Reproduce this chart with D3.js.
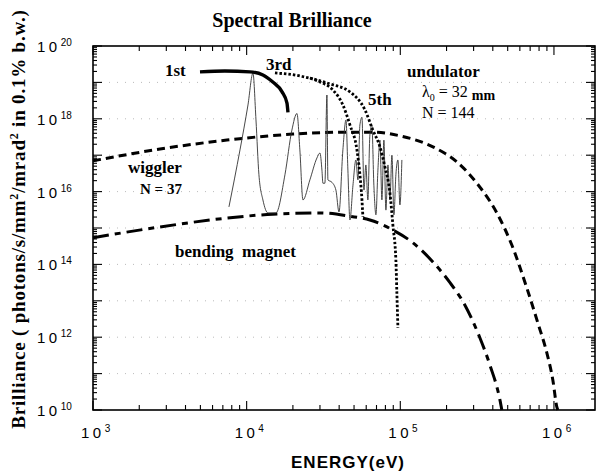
<!DOCTYPE html>
<html>
<head>
<meta charset="utf-8">
<script src="https://cdn.jsdelivr.net/npm/d3@7"></script>
<style>
  body { margin: 0; background: #fff; }
  svg { display: block; }
</style>
</head>
<body>
<div id="chart"></div>
<script>
// Curves: [energy eV, brilliance]
const bendingMagnet = [
    [1.0e3, 5.4e14], [2.73e3, 1.07e15], [7.44e3, 1.87e15], [1.48e4, 2.4e15],
    [3.0e4, 2.6e15], [4.7e4, 2.1e15], [6.34e4, 1.66e15], [8.95e4, 8.8e14],
    [1.21e5, 3.9e14], [1.63e5, 1.17e14], [2.1e5, 3.2e13], [2.63e5, 7.7e12],
    [3.30e5, 9.5e11], [3.83e5, 1.72e11], [4.45e5, 1.9e10], [4.58e5, 1.0e10]
];

const wiggler = [
    [1.0e3, 7.0e16], [2.73e3, 1.48e17], [7.44e3, 2.6e17], [2.0e4, 3.8e17],
    [4.49e4, 4.3e17], [6.63e4, 4.3e17], [9.94e4, 3.4e17], [1.63e5, 1.7e17],
    [2.34e5, 6.5e16], [3.15e5, 1.7e16], [4.25e5, 2.6e15], [5.32e5, 3.4e14],
    [6.66e5, 2.25e13], [7.86e5, 2.45e12], [8.99e5, 3.7e11], [9.84e5, 6.6e10],
    [1.045e6, 1.2e10], [1.06e6, 1.0e10]
];

const undulator1st = [
    [4.97e3, 1.95e19], [7.22e3, 2.05e19], [1.05e4, 1.95e19], [1.276e4, 1.6e19],
    [1.48e4, 1.02e19], [1.70e4, 5.5e18], [1.83e4, 2.7e18], [1.857e4, 1.5e18]
];

const undulator3rd = [
    [1.528e4, 1.82e19], [2.22e4, 1.5e19], [3.0e4, 1.03e19], [3.64e4, 6.2e18],
    [4.23e4, 2.4e18], [4.7e4, 6.8e17], [5.22e4, 1.4e17], [5.46e4, 2.9e16],
    [5.63e4, 5.9e15], [5.71e4, 2.0e15]
];

const undulator5th = [
    [2.58e4, 1.32e19], [3.48e4, 9.1e18], [4.7e4, 5.5e18], [5.89e4, 1.75e18],
    [6.63e4, 4.9e17], [7.37e4, 1.7e17], [7.94e4, 4.8e16], [8.56e4, 9.2e15],
    [8.95e4, 1.2e15], [9.36e4, 1.3e14], [9.5e4, 1.6e13], [9.65e4, 1.8e12]
];

// thin line: undulator spectrum through the harmonic peaks
const undulatorSpectrum = [
    [7.67e3, 3.8e15], [9.05e3, 1.4e17], [1.02e4, 2.4e18], [1.099e4, 1.8e19],
    [1.15e4, 9.3e17], [1.202e4, 2.9e16], [1.276e4, 5.9e15], [1.376e4, 2.6e15],
    [1.551e4, 2.6e15], [1.775e4, 2.9e16], [1.97e4, 4.9e17], [2.125e4, 1.4e18],
    [2.22e4, 1.4e17], [2.325e4, 5.9e15], [2.58e4, 2.1e16], [2.867e4, 8.4e16],
    [3.0e4, 1.15e17], [3.09e4, 3.9e16], [3.136e4, 1.7e16], [3.23e4, 1.7e16],
    [3.33e4, 4.5e18], [3.38e4, 2.1e16], [3.59e4, 1.8e16], [3.81e4, 1.1e16],
    [3.99e4, 2.75e15], [4.23e4, 1.4e17], [4.43e4, 9.3e17], [4.56e4, 3.9e16],
    [4.7e4, 1.66e15], [4.92e4, 1.5e16], [5.14e4, 7.4e16], [5.30e4, 2.1e16],
    [5.46e4, 6.8e17], [5.63e4, 1.1e18], [5.80e4, 1.1e16], [5.97e4, 5.4e16],
    [6.15e4, 5.9e15], [6.34e4, 3.6e17], [6.53e4, 6.8e17], [6.73e4, 1.5e16],
    [6.94e4, 2.3e15], [7.15e4, 3.9e16], [7.37e4, 2.6e17], [7.59e4, 5.9e15],
    [7.82e4, 2.6e17], [8.06e4, 3.1e15], [8.31e4, 5.4e16], [8.56e4, 5.9e15],
    [8.82e4, 1.0e17], [9.09e4, 2.3e15], [9.36e4, 2.9e16], [9.65e4, 7.4e16],
    [9.94e4, 4.3e15], [1.024e5, 7.4e16]
];

const xLabelExps = [3, 4, 5, 6];
const yLabelExps = [10, 12, 14, 16, 18, 20];

const serif = "'Liberation Serif', 'Times New Roman', serif";
const sans = "'Liberation Sans', Arial, sans-serif";

const W = 598, H = 474;
const plot = {left: 93, right: 595, top: 46, bottom: 410};

const svg = d3.select("#chart")
    .append("svg")
    .attr("width", W)
    .attr("height", H);

const x = d3.scaleLog()
    .domain([1e3, 1.85e6])
    .range([plot.left, plot.right]);

const y = d3.scaleLog()
    .domain([1e10, 1e20])
    .range([plot.bottom, plot.top]);

// faint dotted grid at each decade
const yDecades = d3.range(11, 20).map(e => Math.pow(10, e));
svg.append("g")
    .selectAll("line")
    .data(yDecades)
    .join("line")
    .attr("x1", plot.left)
    .attr("x2", plot.right)
    .attr("y1", d => y(d))
    .attr("y2", d => y(d))
    .attr("stroke", "#aaa")
    .attr("stroke-width", 0.8)
    .attr("stroke-dasharray", "1,7");

// ticks, all pointing inward
const xTicks = [];
for (let e = 3; e <= 6; e++) {
    for (let k = 1; k <= 9; k++) {
        const v = k * Math.pow(10, e);
        if (v <= x.domain()[1]) xTicks.push({v, major: k === 1});
    }
}
const yTicks = [];
for (let e = 10; e <= 20; e++) {
    for (let k = 1; k <= 9; k++) {
        const v = k * Math.pow(10, e);
        if (v <= 1e20) yTicks.push({v, major: k === 1});
    }
}

const tickG = svg.append("g").attr("stroke", "#000").attr("stroke-width", 1.1);

tickG.selectAll(".tb")
    .data(xTicks)
    .join("line")
    .attr("class", "tb")
    .attr("x1", d => x(d.v)).attr("x2", d => x(d.v))
    .attr("y1", plot.bottom).attr("y2", d => plot.bottom - (d.major ? 9 : 5));

tickG.selectAll(".tt")
    .data(xTicks)
    .join("line")
    .attr("class", "tt")
    .attr("x1", d => x(d.v)).attr("x2", d => x(d.v))
    .attr("y1", plot.top).attr("y2", d => plot.top + (d.major ? 9 : 5));

tickG.selectAll(".tl")
    .data(yTicks)
    .join("line")
    .attr("class", "tl")
    .attr("y1", d => y(d.v)).attr("y2", d => y(d.v))
    .attr("x1", plot.left).attr("x2", d => plot.left + (d.major ? 9 : 4));

tickG.selectAll(".tr")
    .data(yTicks)
    .join("line")
    .attr("class", "tr")
    .attr("y1", d => y(d.v)).attr("y2", d => y(d.v))
    .attr("x1", plot.right).attr("x2", d => plot.right - (d.major ? 9 : 4));

// frame
svg.append("rect")
    .attr("x", plot.left)
    .attr("y", plot.top)
    .attr("width", plot.right - plot.left)
    .attr("height", plot.bottom - plot.top)
    .attr("fill", "none")
    .attr("stroke", "#000")
    .attr("stroke-width", 1.6);

// tick labels "10^n"
function powerLabel(g, exp) {
    g.append("tspan")
        .style("letter-spacing", "3.5px")
        .text("10");
    g.append("tspan")
        .attr("dy", -6)
        .style("font-size", "10px")
        .text(exp);
}

svg.append("g")
    .selectAll("text")
    .data(yLabelExps)
    .join("text")
    .attr("x", 37)
    .attr("y", d => y(Math.pow(10, d)) + 6)
    .style("font-family", sans)
    .style("font-size", "15px")
    .each(function(d) { powerLabel(d3.select(this), d); });

svg.append("g")
    .selectAll("text")
    .data(xLabelExps)
    .join("text")
    .attr("x", d => x(Math.pow(10, d)) - 12)
    .attr("y", 438)
    .style("font-family", sans)
    .style("font-size", "15px")
    .each(function(d) { powerLabel(d3.select(this), d); });

// axis titles
svg.append("text")
    .attr("x", 348)
    .attr("y", 468)
    .attr("text-anchor", "middle")
    .style("font-family", sans)
    .style("font-weight", "bold")
    .style("font-size", "17px")
    .style("letter-spacing", "1px")
    .text("ENERGY(eV)");

const yTitle = svg.append("text")
    .attr("transform", "translate(25,219) rotate(-90)")
    .attr("text-anchor", "middle")
    .style("font-family", serif)
    .style("font-weight", "bold")
    .style("font-size", "19px")
    .style("letter-spacing", "0.8px");
yTitle.append("tspan").text("Brilliance ( photons/s/mm");
yTitle.append("tspan").attr("dy", -7).style("font-size", "12px").text("2");
yTitle.append("tspan").attr("dy", 7).text("/mrad");
yTitle.append("tspan").attr("dy", -7).style("font-size", "12px").text("2");
yTitle.append("tspan").attr("dy", 7).text(" in 0.1% b.w.)");

svg.append("text")
    .attr("x", 292)
    .attr("y", 27)
    .attr("text-anchor", "middle")
    .style("font-family", serif)
    .style("font-weight", "bold")
    .style("font-size", "20px")
    .text("Spectral Brilliance");

// curves
const line = d3.line()
    .x(d => x(d[0]))
    .y(d => y(d[1]))
    .curve(d3.curveMonotoneX);

const curves = [
    {data: bendingMagnet, width: 3, dash: "16,6,6,6"},
    {data: wiggler, width: 3, dash: "8,5"},
    {data: undulatorSpectrum, width: 0.9, dash: null, color: "#333"},
    {data: undulator1st, width: 3.4, dash: null},
    {data: undulator3rd, width: 2.8, dash: "2.5,2"},
    {data: undulator5th, width: 2.8, dash: "2.5,2"}
];

svg.append("g")
    .selectAll("path")
    .data(curves)
    .join("path")
    .attr("d", d => line(d.data))
    .attr("fill", "none")
    .attr("stroke", d => d.color || "#000")
    .attr("stroke-width", d => d.width)
    .attr("stroke-dasharray", d => d.dash);

// annotations
const notes = [
    {text: "1st", x: 165, y: 76, size: 17, bold: true},
    {text: "3rd", x: 266, y: 70, size: 17, bold: true},
    {text: "5th", x: 368, y: 105, size: 17, bold: true},
    {text: "undulator", x: 407, y: 77, size: 17, bold: true},
    {text: "N = 144", x: 422, y: 118, size: 16, bold: false},
    {text: "wiggler", x: 128, y: 173, size: 17, bold: true},
    {text: "N = 37", x: 140, y: 194, size: 15, bold: true},
    {text: "bending  magnet", x: 175, y: 257, size: 17, bold: true}
];

svg.append("g")
    .selectAll("text")
    .data(notes)
    .join("text")
    .attr("x", d => d.x)
    .attr("y", d => d.y)
    .attr("xml:space", "preserve")
    .style("font-family", serif)
    .style("font-size", d => d.size + "px")
    .style("font-weight", d => d.bold ? "bold" : "normal")
    .style("white-space", "pre")
    .text(d => d.text);

const lambda = svg.append("text")
    .attr("x", 422)
    .attr("y", 97)
    .style("font-family", serif)
    .style("font-size", "16px");
lambda.append("tspan").text("λ");
lambda.append("tspan").attr("dy", 4).style("font-size", "10px").text("0");
lambda.append("tspan").attr("dy", -4).text(" = 32 ");
lambda.append("tspan").attr("dy", 3).style("font-weight", "bold").style("font-size", "14px").text("mm");
</script>
</body>
</html>
